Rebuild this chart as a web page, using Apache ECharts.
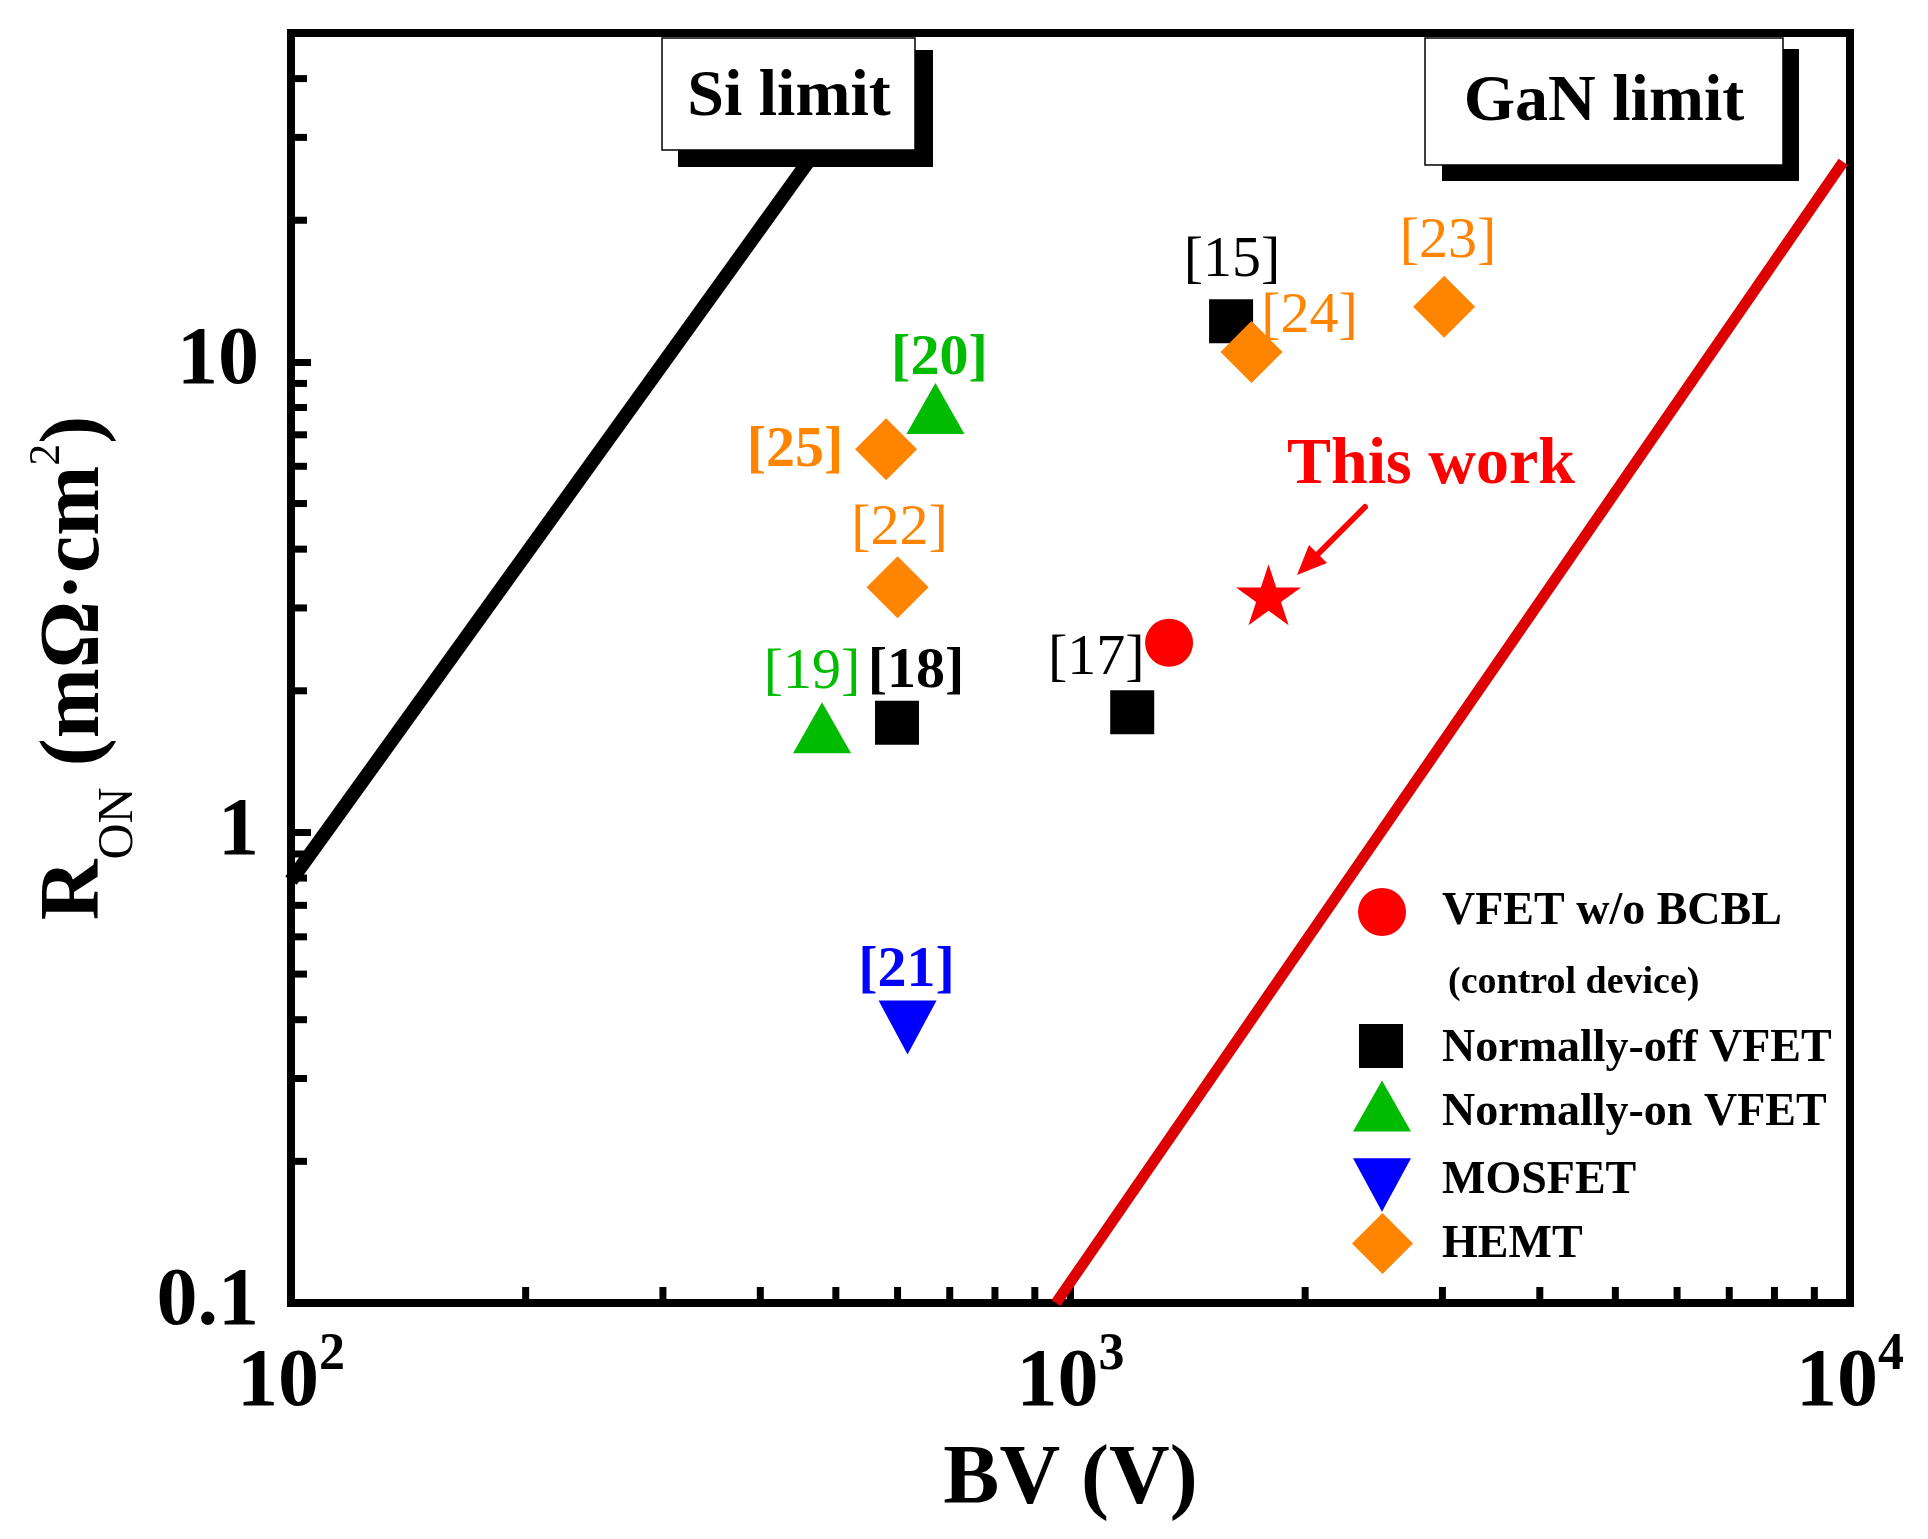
<!DOCTYPE html>
<html>
<head>
<meta charset="utf-8">
<script src="https://cdn.jsdelivr.net/npm/echarts/dist/echarts.min.js"></script>
<style>
html,body{margin:0;padding:0;background:#fff;}
#chart{width:1928px;height:1539px;}
</style>
</head>
<body>
<div id="chart"></div>
<script>
// ---------------- data ----------------
const vfetBV = [1338];                 // VFET w/o BCBL (control device)
const vfetRon = [2.53];
const thisWorkBV = [1795];             // This work (star)
const thisWorkRon = [3.20];
const normOffBV = [1607, 599, 1200];   // Normally-off VFET
const normOffRon = [12.2, 1.71, 1.80];
const normOffRefs = ['[15]', '[18]', '[17]'];
const normOnBV = [671, 480];           // Normally-on VFET
const normOnRon = [7.96, 1.67];
const normOnRefs = ['[20]', '[19]'];
const mosBV = [618];                   // MOSFET
const mosRon = [0.385];
const mosRefs = ['[21]'];
const hemtBV = [580, 600, 1707, 3015]; // HEMT
const hemtRon = [6.52, 3.32, 10.5, 13.1];
const hemtRefs = ['[25]', '[22]', '[24]', '[23]'];
const siLimitBV = [100, 520];
const siLimitRon = [0.79, 35.2];
const ganLimitBV = [958, 9800];
const ganLimitRon = [0.1, 26.6];
const xMinorTicks = [200, 300, 400, 500, 600, 700, 800, 900, 2000, 3000, 4000, 5000, 6000, 7000, 8000, 9000];
const yMinorTicks = [0.2, 0.3, 0.4, 0.5, 0.6, 0.7, 0.8, 0.9, 2, 3, 4, 5, 6, 7, 8, 9, 20, 30, 40];
const xMin = 100, xMax = 10000, yMin = 0.1, yMax = 50;

// ---------------- styles ----------------
const FONT = '"Liberation Serif", "Times New Roman", serif';
const RED = '#FF0000', GREEN = '#00BB00', BLUE = '#0000FF', ORANGE = '#FF8400', BLACK = '#000000';
const refLabelStyle = {
  '[15]': {offset: [1, -60], color: BLACK, weight: 'normal'},
  '[18]': {offset: [19, -51], color: BLACK, weight: 'bold'},
  '[17]': {offset: [-36, -54], color: BLACK, weight: 'normal'},
  '[20]': {offset: [4, -50], color: GREEN, weight: 'bold'},
  '[19]': {offset: [-10, -55], color: GREEN, weight: 'normal'},
  '[21]': {offset: [-1, -56], color: BLUE, weight: 'bold'},
  '[25]': {offset: [-91, 2], color: ORANGE, weight: 'bold'},
  '[22]': {offset: [2, -58], color: ORANGE, weight: 'normal'},
  '[24]': {offset: [58, -35], color: ORANGE, weight: 'normal'},
  '[23]': {offset: [4, -65], color: ORANGE, weight: 'normal'}
};
const INV_TRI = 'path://M0,0L100,0L50,92Z';
const STAR = 'path://M100,0L122.45,69.1L195.11,69.1L136.33,111.8L158.78,180.9L100,138.2L41.22,180.9L63.67,111.8L4.89,69.1L77.55,69.1Z';

function pts(xs, ys, refs) {
  return xs.map((x, i) => {
    const item = {value: [x, ys[i]]};
    if (refs) {
      const s = refLabelStyle[refs[i]];
      item.label = {
        show: true, position: 'inside', formatter: refs[i], offset: s.offset, opacity: 1,
        color: s.color, fontWeight: s.weight, fontSize: 58, fontFamily: FONT
      };
    }
    return item;
  });
}
function lineData(xs, ys) { return xs.map((x, i) => [x, ys[i]]); }

const chart = echarts.init(document.getElementById('chart'), null, {renderer: 'canvas'});

// shift: vertical offset of the text relative to the icon centre; padLeft: gap before the text
function legendFor(name, left, top, w, h, shift, padLeft, icon) {
  const d = {name: name};
  if (icon) d.icon = icon;
  const pt = shift > 0 ? 2 * shift : 0, pb = shift < 0 ? -2 * shift : 0;
  return {
    show: true, orient: 'vertical', left: left, top: top, padding: 0,
    itemWidth: w, itemHeight: h, selectedMode: false, data: [d],
    formatter: function (n) { return '{a|' + n + '}'; },
    textStyle: {
      fontFamily: FONT, fontSize: 46, fontWeight: 'bold', color: BLACK, lineHeight: 20,
      rich: {a: {fontFamily: FONT, fontSize: 46, fontWeight: 'bold', color: BLACK, lineHeight: 20, padding: [pt, 0, pb, padLeft]}}
    }
  };
}

const option = {
  animation: false,
  backgroundColor: '#ffffff',
  textStyle: {fontFamily: FONT},
  grid: {left: 291, right: 78, top: 33, bottom: 236, show: true, borderColor: BLACK, borderWidth: 8,
         backgroundColor: 'transparent', containLabel: false, outerBoundsMode: 'none'},
  legend: [
    legendFor('VFET w/o BCBL', 1358, 888, 48, 48, 0, 31),
    legendFor('Normally-off VFET', 1359, 1020, 44, 44, 3, 34),
    legendFor('Normally-on VFET', 1353, 1076, 58, 51, 7, 26),
    legendFor('MOSFET', 1353, 1158, 58, 54, -4, 26, INV_TRI),
    legendFor('HEMT', 1352, 1213, 61, 61, 2, 24)
  ],
  xAxis: {
    type: 'log', logBase: 10, min: xMin, max: xMax,
    name: 'BV (V)', nameLocation: 'middle', nameGap: 136, nameMoveOverlap: false,
    nameTextStyle: {fontFamily: FONT, fontSize: 84, fontWeight: 'bold', color: BLACK, lineHeight: 84},
    axisLine: {show: true, lineStyle: {color: BLACK, width: 8}},
    axisTick: {show: true, inside: true, length: 20, lineStyle: {color: BLACK, width: 7}},
    splitLine: {show: false},
    axisLabel: {
      margin: 27,
      formatter: function (v) { return '{b|10}{s|' + Math.round(Math.log10(v)) + '}'; },
      rich: {
        b: {fontFamily: FONT, fontSize: 82, fontWeight: 'bold', color: BLACK, lineHeight: 108},
        s: {fontFamily: FONT, fontSize: 52, fontWeight: 'bold', color: BLACK, lineHeight: 52, verticalAlign: 'top'}
      }
    }
  },
  yAxis: {
    type: 'log', logBase: 10, min: yMin, max: yMax,
    name: '{r|R}{sub|ON}{t| (mΩ·cm}{sup|2}{t|)}', nameLocation: 'middle', nameGap: 155, nameRotate: 90,
    nameMoveOverlap: false,
    nameTextStyle: {
      lineHeight: 120,
      rich: {
        r: {fontFamily: FONT, fontSize: 84, fontWeight: 'bold', color: BLACK, lineHeight: 120},
        t: {fontFamily: FONT, fontSize: 84, fontWeight: 'bold', color: BLACK, lineHeight: 120},
        sub: {fontFamily: FONT, fontSize: 50, fontWeight: 'normal', color: BLACK, height: 35, lineHeight: 120, verticalAlign: 'bottom'},
        sup: {fontFamily: FONT, fontSize: 44, fontWeight: 'normal', color: BLACK, height: 63, lineHeight: 120, verticalAlign: 'top'}
      }
    },
    axisLine: {show: true, lineStyle: {color: BLACK, width: 8}},
    axisTick: {show: true, inside: true, length: 20, lineStyle: {color: BLACK, width: 7}},
    splitLine: {show: false},
    axisLabel: {
      margin: 32, showMaxLabel: false,
      fontFamily: FONT, fontSize: 82, fontWeight: 'bold', color: BLACK,
      formatter: function (v) {
        const l = Math.log10(v);
        if (Math.abs(l - Math.round(l)) > 1e-6) return '';
        return String(+v.toPrecision(6));
      }
    }
  },
  series: [
    {name: 'Si limit', type: 'line', data: lineData(siLimitBV, siLimitRon), symbol: 'none', silent: true,
     lineStyle: {color: BLACK, width: 14}, z: 2},
    {name: 'GaN limit', type: 'line', data: lineData(ganLimitBV, ganLimitRon), symbol: 'none', silent: true,
     lineStyle: {color: '#DC0000', width: 11}, z: 2},
    {name: 'xMinor', type: 'custom', silent: true, clip: false, z: 4,
     data: xMinorTicks.map(v => [v, yMin]),
     renderItem: function (params, api) {
       const p = api.coord([api.value(0), yMin]);
       return {type: 'line', shape: {x1: p[0], y1: p[1], x2: p[0], y2: p[1] - 16}, style: {stroke: BLACK, lineWidth: 7}};
     }},
    {name: 'yMinor', type: 'custom', silent: true, clip: false, z: 4,
     data: yMinorTicks.map(v => [xMin, v]),
     renderItem: function (params, api) {
       const p = api.coord([xMin, api.value(1)]);
       return {type: 'line', shape: {x1: p[0], y1: p[1], x2: p[0] + 16, y2: p[1]}, style: {stroke: BLACK, lineWidth: 7}};
     }},
    {name: 'VFET w/o BCBL', type: 'scatter', symbol: 'circle', symbolSize: [48, 48],
     itemStyle: {color: RED, opacity: 1}, data: pts(vfetBV, vfetRon), z: 6},
    {name: 'This work', type: 'scatter', symbol: STAR, symbolSize: [65, 61],
     itemStyle: {color: RED, opacity: 1}, data: pts(thisWorkBV, thisWorkRon), z: 6},
    {name: 'Normally-off VFET', type: 'scatter', symbol: 'rect', symbolSize: [44, 44],
     itemStyle: {color: BLACK, opacity: 1}, data: pts(normOffBV, normOffRon, normOffRefs), z: 6},
    {name: 'Normally-on VFET', type: 'scatter', symbol: 'triangle', symbolSize: [58, 51],
     itemStyle: {color: GREEN, opacity: 1}, data: pts(normOnBV, normOnRon, normOnRefs), z: 6},
    {name: 'MOSFET', type: 'scatter', symbol: INV_TRI, symbolSize: [58, 54],
     itemStyle: {color: BLUE, opacity: 1}, data: pts(mosBV, mosRon, mosRefs), z: 6},
    {name: 'HEMT', type: 'scatter', symbol: 'diamond', symbolSize: [62, 62],
     itemStyle: {color: ORANGE, opacity: 1}, data: pts(hemtBV, hemtRon, hemtRefs), z: 7}
  ],
  graphic: [
    // Si limit box
    {type: 'rect', z: 100, shape: {x: 678, y: 50, width: 255, height: 117}, style: {fill: BLACK}},
    {type: 'rect', z: 101, shape: {x: 662, y: 38, width: 253, height: 112}, style: {fill: '#fff', stroke: BLACK, lineWidth: 1.5}},
    {type: 'text', z: 102, style: {text: 'Si limit', x: 789, y: 98, align: 'center', verticalAlign: 'middle',
      font: 'bold 66px ' + FONT, fill: BLACK}},
    // GaN limit box
    {type: 'rect', z: 100, shape: {x: 1442, y: 49, width: 357, height: 132}, style: {fill: BLACK}},
    {type: 'rect', z: 101, shape: {x: 1425, y: 38, width: 358, height: 127}, style: {fill: '#fff', stroke: BLACK, lineWidth: 1.5}},
    {type: 'text', z: 102, style: {text: 'GaN limit', x: 1604, y: 103, align: 'center', verticalAlign: 'middle',
      font: 'bold 66px ' + FONT, fill: BLACK}},
    // This work annotation
    {type: 'text', z: 102, style: {text: 'This work', x: 1287, y: 466, align: 'left', verticalAlign: 'middle',
      font: 'bold 66px ' + FONT, fill: RED}},
    {type: 'line', z: 102, shape: {x1: 1365, y1: 507, x2: 1314, y2: 558}, style: {stroke: RED, lineWidth: 6, lineCap: 'round'}},
    {type: 'polygon', z: 102, shape: {points: [[1297, 575], [1327, 563], [1309, 545]]}, style: {fill: RED}},
    // legend sub-line
    {type: 'text', z: 102, style: {text: '(control device)', x: 1448, y: 983, align: 'left', verticalAlign: 'middle',
      font: 'bold 38px ' + FONT, fill: BLACK}}
  ]
};
chart.setOption(option);
</script>
</body>
</html>
